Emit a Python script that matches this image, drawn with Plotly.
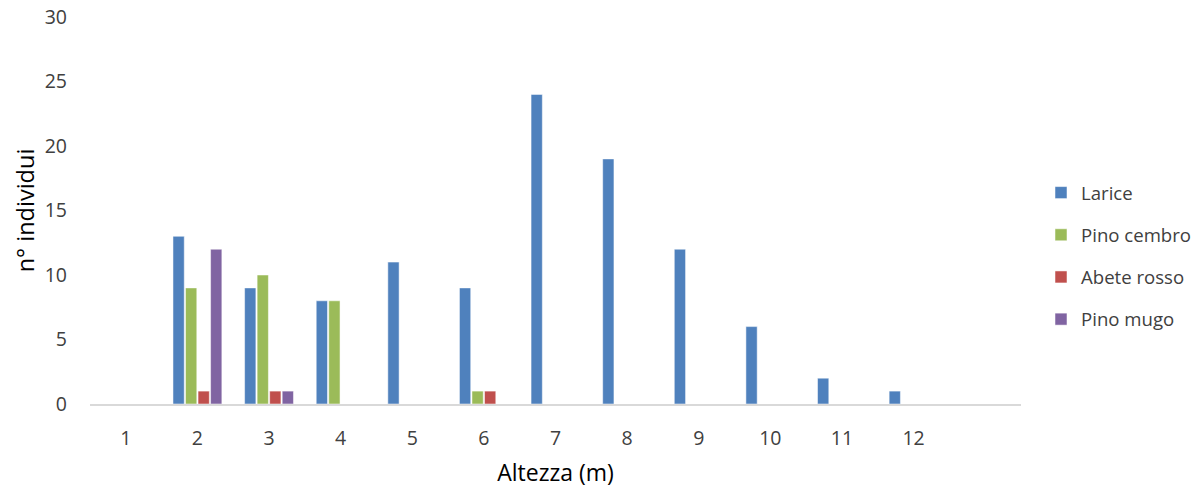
import plotly.graph_objects as go

categories = [1, 2, 3, 4, 5, 6, 7, 8, 9, 10, 11, 12]
larice = [0, 13, 9, 8, 11, 9, 24, 19, 12, 6, 2, 1]
pino_cembro = [0, 9, 10, 8, 0, 1, 0, 0, 0, 0, 0, 0]
abete_rosso = [0, 1, 1, 0, 0, 1, 0, 0, 0, 0, 0, 0]
pino_mugo = [0, 12, 1, 0, 0, 0, 0, 0, 0, 0, 0, 0]

series = [
    ("Larice", larice, "#4F81BD"),
    ("Pino cembro", pino_cembro, "#9BBB59"),
    ("Abete rosso", abete_rosso, "#C0504D"),
    ("Pino mugo", pino_mugo, "#8064A2"),
]

font_family = "'Open Sans', sans-serif"
fig = go.Figure()
for name, vals, col in series:
    fig.add_trace(go.Bar(
        x=categories, y=vals, name=name, legendgroup=name,
        marker=dict(color=col, line=dict(color="rgba(255,255,255,0.5)", width=1)),
    ))

fig.update_layout(
    width=1203, height=488,
    margin=dict(l=90, r=182, t=17, b=84, autoexpand=False),
    paper_bgcolor="white", plot_bgcolor="white",
    barmode="group", bargap=0.3, bargroupgap=0.1,
    font=dict(family=font_family, size=19, color="#404040"),
    showlegend=True,
    legend=dict(x=1041 / 1203, xref="container", xanchor="left",
                y=(488 - 256) / 488, yref="container", yanchor="middle",
                font=dict(size=18.6, color="#404040"), tracegroupgap=15,
                itemwidth=30),
    xaxis=dict(range=[0.5, 13.5], tickmode="array", tickvals=categories,
               ticktext=[str(c) for c in categories],
               showline=True, linecolor="#D9D9D9", linewidth=2,
               showgrid=False, zeroline=False, ticks="", automargin=False,
               ticklabelstandoff=16,
               tickfont=dict(size=19.5, color="#404040"),
               title=dict(text="Altezza (m)", font=dict(size=23, color="#000000"), standoff=17)),
    yaxis=dict(range=[0, 30], tickmode="array", tickvals=[0, 5, 10, 15, 20, 25, 30],
               showline=False, showgrid=False, zeroline=False, ticks="", automargin=False,
               ticklabelstandoff=22,
               tickfont=dict(size=19.5, color="#404040"),
               title=dict(text="n° individui", font=dict(size=23.5, color="#000000"), standoff=3)),
)

fig.write_html("out.html")
